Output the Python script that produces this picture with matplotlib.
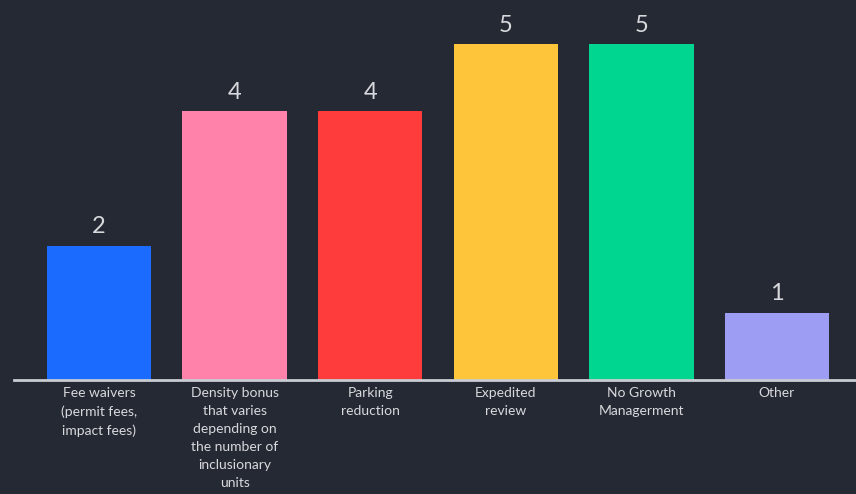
import matplotlib
matplotlib.use("Agg")
import matplotlib.pyplot as plt
import numpy as np

# data
categories = [
    "Fee waivers\n(permit fees,\nimpact fees)",
    "Density bonus\nthat varies\ndepending on\nthe number of\ninclusionary\nunits",
    "Parking\nreduction",
    "Expedited\nreview",
    "No Growth\nManagerment",
    "Other",
]
counts = [2, 4, 4, 5, 5, 1]
bar_colors = ["#1b6bff", "#ff82ab", "#ff3c3c", "#ffc53a", "#00d690", "#9d9df3"]

bg = "#252933"
text_col = "#d8d9dd"

plt.rcParams['font.family'] = ['Lato', 'DejaVu Sans']

fig = plt.figure(figsize=(8.56, 4.94), dpi=100, facecolor=bg)
# axes from x=14px to right edge, baseline at y=380px
ax = fig.add_axes([14/856, (494-380)/494, (856-14)/856, 380/494])
ax.set_facecolor(bg)

x = np.arange(len(counts)) * 1.0
bars = ax.bar(x, counts, width=0.77, color=bar_colors, zorder=2)

for xi, v in zip(x, counts):
    ax.annotate(str(v), (xi, v), xytext=(0, 6), textcoords="offset points",
                ha="center", va="bottom", fontsize=17, color=text_col)

ax.set_xlim(-0.627, 5.583)
ax.set_ylim(0, 5.655)
ax.set_xticks(x)
ax.set_xticklabels(categories, fontsize=10, color=text_col, linespacing=1.6)
ax.tick_params(axis="x", length=0, pad=5)
ax.set_yticks([])

for s in ["top", "right", "left"]:
    ax.spines[s].set_visible(False)
ax.spines["bottom"].set_color("#c9ccd3")
ax.spines["bottom"].set_linewidth(2)

fig.savefig("out.png", dpi=100, facecolor=bg)
